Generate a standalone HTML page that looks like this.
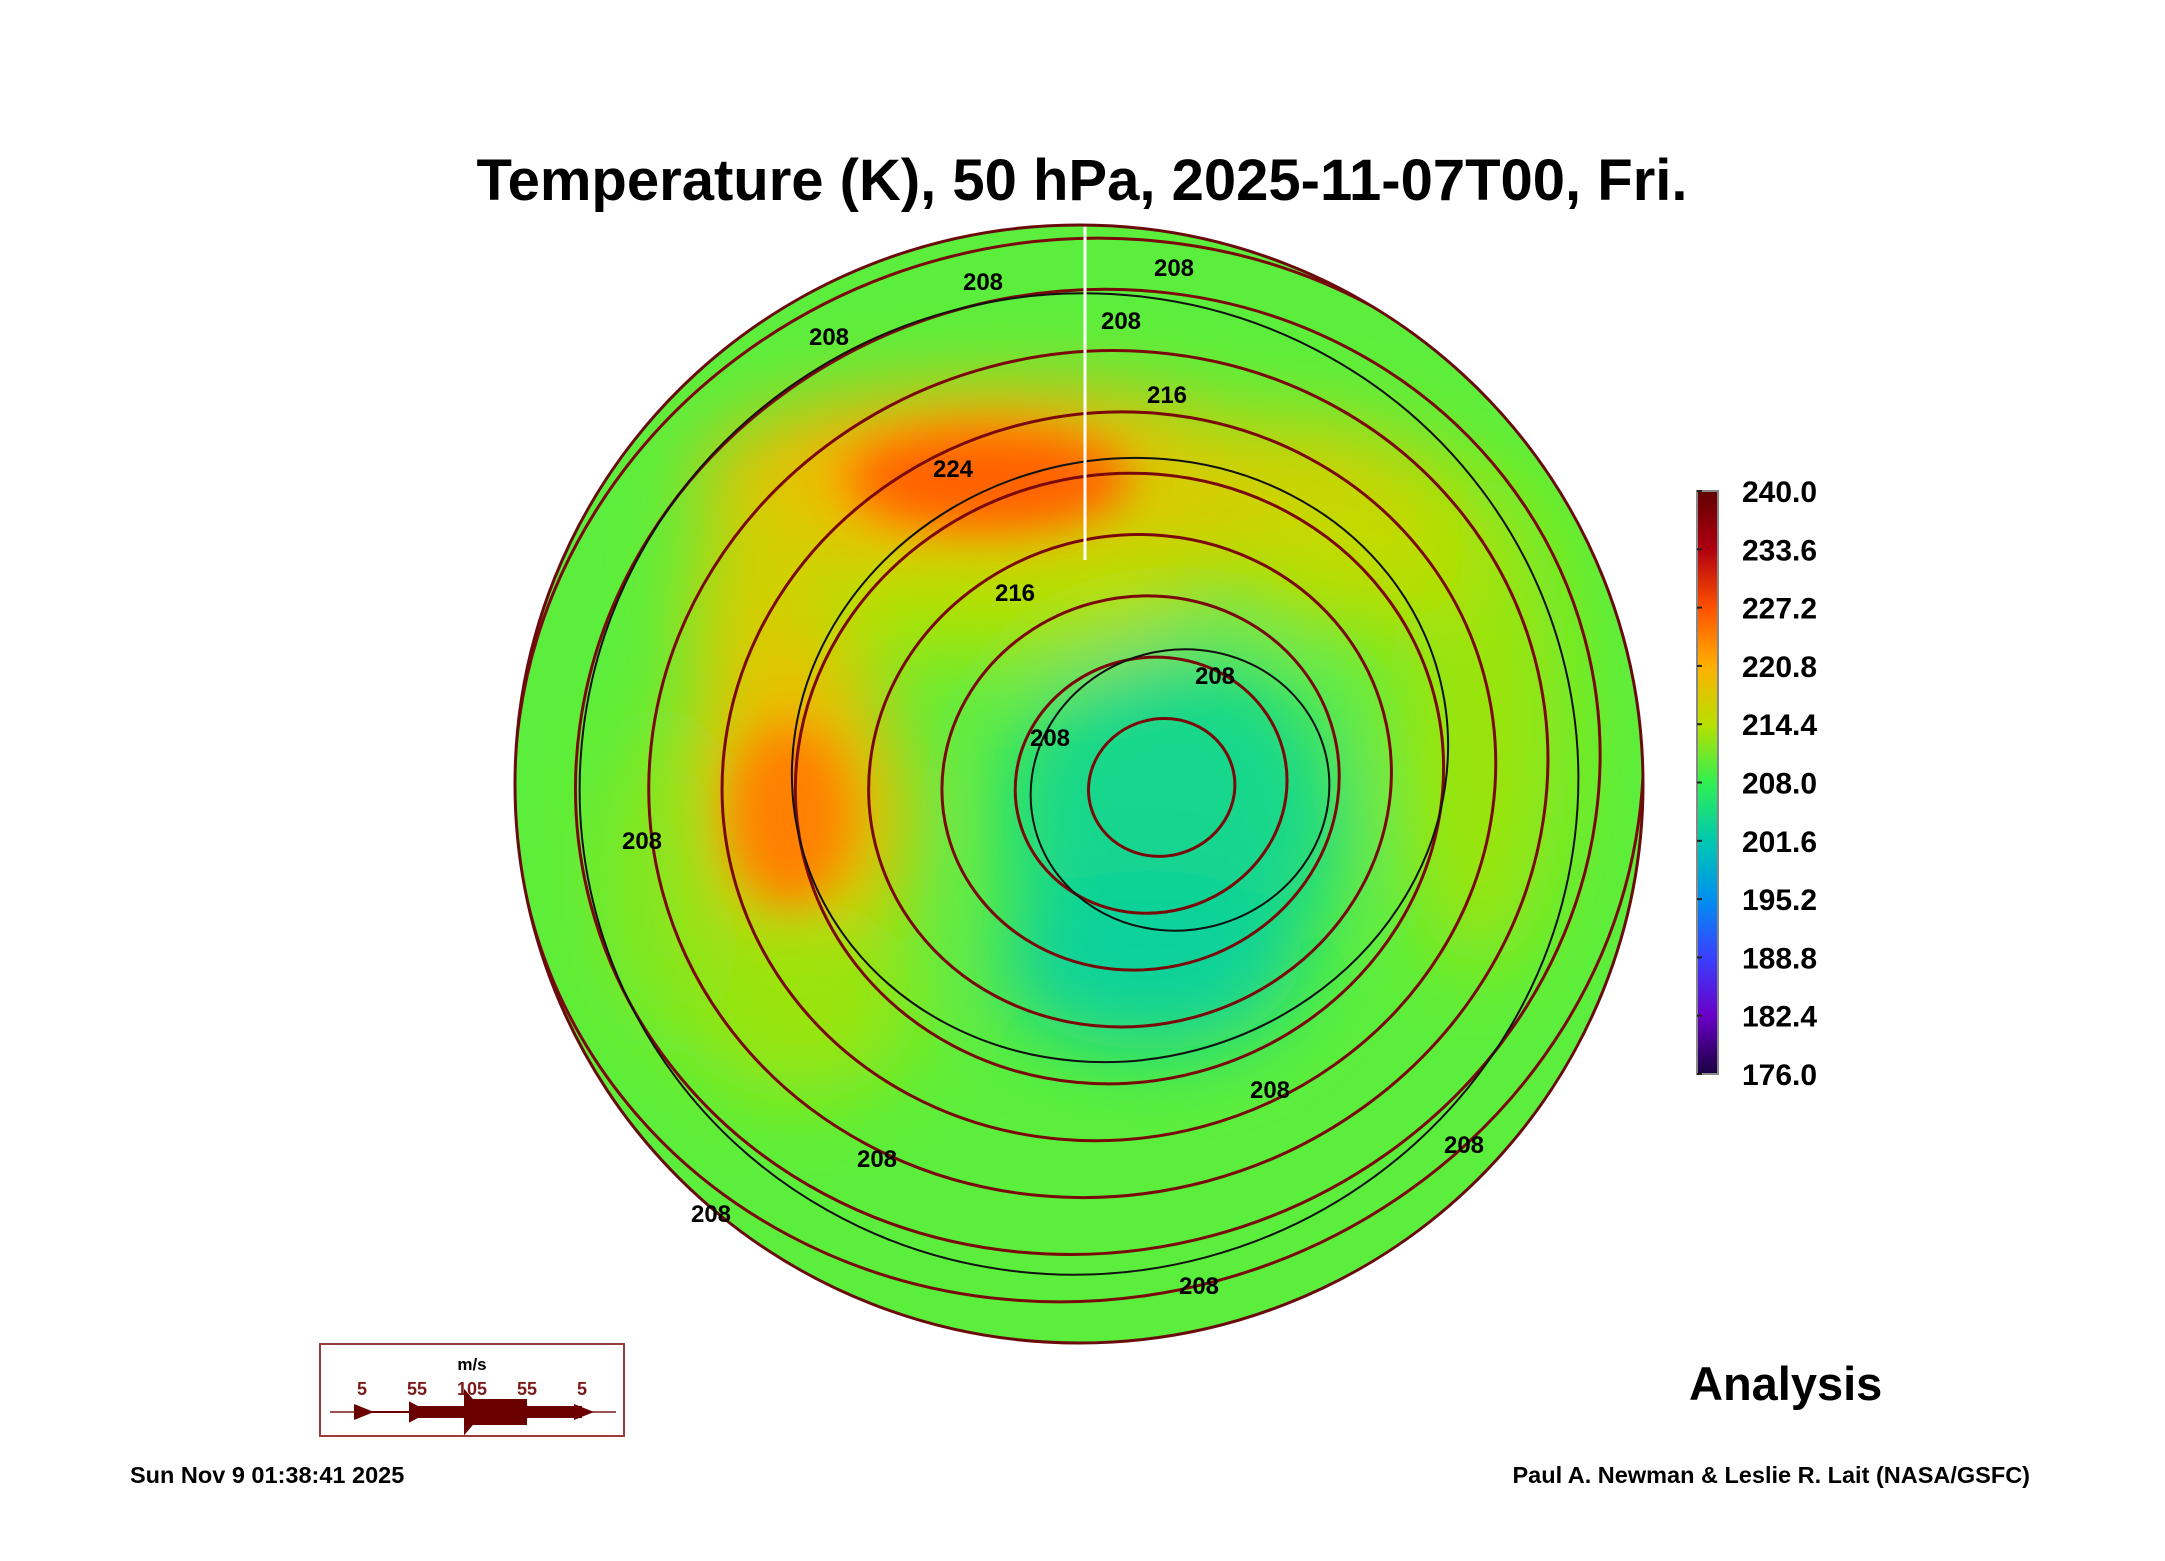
<!DOCTYPE html>
<html><head><meta charset="utf-8"><style>
html,body{margin:0;padding:0;background:#fff}
svg{display:block}
text{font-family:"Liberation Sans",Arial,sans-serif;font-weight:bold}
</style></head><body>
<svg id="chart" width="2165" height="1561" viewBox="0 0 2165 1561">
<defs>
<linearGradient id="cbar" x1="0" y1="1" x2="0" y2="0">
<stop offset="0" stop-color="#1a0040"/><stop offset="0.1" stop-color="#6a00c8"/>
<stop offset="0.2" stop-color="#3a40ff"/><stop offset="0.3" stop-color="#0090f0"/>
<stop offset="0.4" stop-color="#00c8b0"/><stop offset="0.5" stop-color="#30f050"/>
<stop offset="0.6" stop-color="#b8e000"/><stop offset="0.7" stop-color="#ffb000"/>
<stop offset="0.8" stop-color="#ff5000"/><stop offset="0.9" stop-color="#b00010"/>
<stop offset="1" stop-color="#600000"/></linearGradient>
<clipPath id="globe"><ellipse cx="1079" cy="784" rx="564" ry="559"/></clipPath>
<filter id="blur" x="-50%" y="-50%" width="200%" height="200%"><feGaussianBlur stdDeviation="40"/></filter>
<filter id="blur2" x="-50%" y="-50%" width="200%" height="200%"><feGaussianBlur stdDeviation="22"/></filter>
</defs>
<text x="1082" y="200" font-size="58" text-anchor="middle">Temperature (K), 50 hPa, 2025-11-07T00, Fri.</text>
<g id="map" clip-path="url(#globe)">
<ellipse cx="1079" cy="784" rx="564" ry="559" fill="#5cee3c"/>
<g id="blobs" filter="url(#blur)"></g>
<g id="blobs2" filter="url(#blur2)"></g>
<g id="streams" fill="none" stroke="#7a0a0a" stroke-width="3"></g>
<g id="contours" fill="none" stroke="#111" stroke-width="2"></g>
<line x1="1085" y1="225" x2="1085" y2="560" stroke="#fff" stroke-width="3"/>
</g>
<ellipse cx="1079" cy="784" rx="564" ry="559" fill="none" stroke="#6a0a0a" stroke-width="3"/>
<g id="contour-labels" font-size="24"></g>
<rect x="1697" y="491" width="21" height="583" fill="url(#cbar)" stroke="#888" stroke-width="2"/>
<g id="cbar-ticks"></g>
<rect x="320" y="1344" width="304" height="92" fill="#fff" stroke="#9a3a3a" stroke-width="2"/>
<g id="wind-legend"></g>
<text x="1689" y="1400" font-size="47">Analysis</text>
<text x="130" y="1483" font-size="23.5">Sun Nov  9 01:38:41 2025</text>
<text x="2030" y="1483" font-size="23.5" text-anchor="end">Paul A. Newman &amp; Leslie R. Lait (NASA/GSFC)</text>
</svg>
<script>
const cbarTicks=["240.0","233.6","227.2","220.8","214.4","208.0","201.6","195.2","188.8","182.4","176.0"];
const windLabels=["5","55","105","55","5"];
const windWidths=[2,12,26,12,2];
// temperature regions: centre, radii, temperature (K)
const blobX=[1000,1260,780,800,1480,800,1174,1150,1000,1350,660];
const blobY=[480,500,640,820,720,1000,820,960,600,560,880];
const blobRX=[300,200,90,110,90,120,170,150,200,120,60];
const blobRY=[90,80,180,170,250,100,170,90,60,70,150];
const blobT=[221,217,217,219,213,213,204,203,214,215,212];
const strongX=[990,790];const strongY=[480,815];const strongRX=[140,60];const strongRY=[50,90];const strongT=[226,224];
const streamR=[70,130,190,250,310,370,430,490,540];
const contourLabelText=["208","208","208","208","216","224","216","208","208","208","208","208","208","208","208"];
const contourLabelX=[983,1174,829,1121,1167,953,1015,1215,1050,642,877,711,1199,1464,1270];
const contourLabelY=[290,276,345,329,403,477,601,684,746,849,1167,1222,1294,1153,1098];
const svgNS="http://www.w3.org/2000/svg";
function mk(tag,attrs,parent){const e=document.createElementNS(svgNS,tag);for(const k in attrs)e.setAttribute(k,attrs[k]);parent.appendChild(e);return e;}
function tempColor(t){const f=(t-176)/64;const stops=[[0,[26,0,64]],[.1,[106,0,200]],[.2,[58,64,255]],[.3,[0,144,240]],[.4,[0,200,176]],[.5,[48,240,80]],[.6,[184,224,0]],[.7,[255,176,0]],[.8,[255,80,0]],[.9,[176,0,16]],[1,[96,0,0]]];
for(let i=1;i<stops.length;i++){if(f<=stops[i][0]){const a=stops[i-1],b=stops[i];const u=(f-a[0])/(b[0]-a[0]);return "rgb("+a[1].map((v,j)=>Math.round(v+(b[1][j]-v)*u)).join(",")+")";}}return "rgb(96,0,0)";}
const blobs=document.getElementById('blobs');
for(let i=0;i<blobX.length;i++){const e=mk('ellipse',{cx:blobX[i],cy:blobY[i],rx:blobRX[i],ry:blobRY[i],fill:tempColor(blobT[i])},blobs);

}
const blobs2=document.getElementById('blobs2');
for(let i=0;i<strongX.length;i++){const e=mk('ellipse',{cx:strongX[i],cy:strongY[i],rx:strongRX[i],ry:strongRY[i],fill:tempColor(strongT[i])},blobs2);

}
const streams=document.getElementById('streams');
const vcx=1174,vcy=790;
streamR.forEach((r,i)=>{const k=r/540;const cx=vcx-(vcx-1079)*k, cy=vcy-(vcy-770)*k;
const p=mk('ellipse',{cx:cx,cy:cy,rx:r*1.05,ry:r*0.98,transform:`rotate(-15 ${cx} ${cy})`},streams);

});
const contours=document.getElementById('contours');
[[1180,790,150,140],[1120,760,330,300],[1079,784,500,490]].forEach(c=>{const e=mk('ellipse',{cx:c[0],cy:c[1],rx:c[2],ry:c[3],transform:`rotate(-15 ${c[0]} ${c[1]})`},contours);

});
const cl=document.getElementById('contour-labels');
contourLabelText.forEach((t,i)=>{const e=mk('text',{x:contourLabelX[i],y:contourLabelY[i],'text-anchor':'middle'},cl);e.textContent=t;

});
const ct=document.getElementById('cbar-ticks');
cbarTicks.forEach((t,i)=>{const y=491+i*58.3;
const l=mk('line',{x1:1697,x2:1702,y1:y,y2:y,stroke:'#222','stroke-width':2},ct);


const e=mk('text',{x:1742,y:y+11,'font-size':30},ct);e.textContent=t;

});
const wl=document.getElementById('wind-legend');
const mt=mk('text',{x:472,y:1370,'font-size':17,'text-anchor':'middle'},wl);mt.textContent="m/s";


mk('line',{x1:330,x2:616,y1:1412,y2:1412,stroke:'#7a1a1a','stroke-width':1.5},wl);
const xs=[362,417,472,527,582];
windLabels.forEach((t,i)=>{const xx=xs[i];
const e=mk('text',{x:xx,y:1395,'font-size':18,'text-anchor':'middle',fill:'#7a1a1a'},wl);e.textContent=t;


const w=windWidths[i];
if(i<4){const r=mk('rect',{x:xx,y:1412-w/2,width:55,height:w,fill:'#6a0000'},wl);

}
const h=Math.max(8,w*0.9);
const a=mk('polygon',{points:`${xx-8},${1412-h} ${xx+12},1412 ${xx-8},${1412+h}`,fill:'#6a0000'},wl);

});
</script>
</body></html>
